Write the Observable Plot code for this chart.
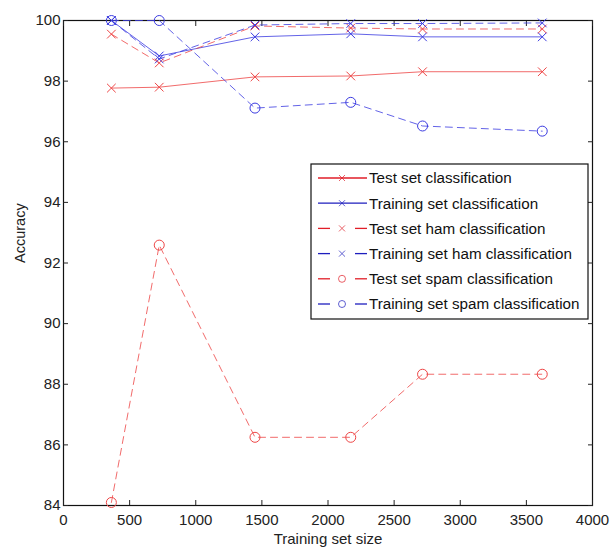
<!DOCTYPE html>
<html><head><meta charset="utf-8">
<script src="https://cdn.jsdelivr.net/npm/d3@7"></script>
<script src="https://cdn.jsdelivr.net/npm/@observablehq/plot@0.6"></script>
<style>
body{margin:0;background:#fff;}
#wrap{position:relative;width:611px;height:549px;font-family:"Liberation Sans",Arial,sans-serif;}
#wrap svg{display:block;}
#legend{position:absolute;left:0;top:0;}
</style></head><body><div id="wrap"></div>
<script>
// ---- data ----
const trainingSizes = [362, 724, 1448, 2172, 2715, 3620];
const seriesNames = [
  "Test set classification",
  "Training set classification",
  "Test set ham classification",
  "Training set ham classification",
  "Test set spam classification",
  "Training set spam classification"
];
const testSetAll      = [97.77, 97.80, 98.14, 98.17, 98.31, 98.31];
const trainingSetAll  = [100.0, 98.83, 99.46, 99.56, 99.46, 99.46];
const testSetHam      = [99.55, 98.60, 99.82, 99.75, 99.72, 99.72];
const trainingSetHam  = [100.0, 98.73, 99.85, 99.90, 99.90, 99.92];
const testSetSpam     = [84.10, 92.59, 86.25, 86.25, 88.33, 88.33];
const trainingSetSpam = [100.0, 100.0, 97.11, 97.30, 96.52, 96.35];
const xTicks = [0, 500, 1000, 1500, 2000, 2500, 3000, 3500, 4000];
const yTicks = [84, 86, 88, 90, 92, 94, 96, 98, 100];
const xLabel = "Training set size";
const yLabel = "Accuracy";

// ---- styles ----
const RED = "rgb(238,70,70)", BLUE = "rgb(60,60,225)";
const seriesStyles = [
  {color: RED,  dash: null,  symbol: "times"},
  {color: BLUE, dash: null,  symbol: "times"},
  {color: RED,  dash: "7,5", symbol: "times"},
  {color: BLUE, dash: "7,5", symbol: "times"},
  {color: RED,  dash: "7,5", symbol: "circle"},
  {color: BLUE, dash: "7,5", symbol: "circle"}
];
const seriesValues = [testSetAll, trainingSetAll, testSetHam, trainingSetHam, testSetSpam, trainingSetSpam];

const seriesMarks = [];
seriesValues.forEach((vals, i) => {
  const rows = trainingSizes.map((s, j) => ({size: s, acc: vals[j], series: seriesNames[i]}));
  const st = seriesStyles[i];
  seriesMarks.push(Plot.line(rows, {x: "size", y: "acc", stroke: st.color, strokeWidth: 1,
    strokeOpacity: 0.8, strokeDasharray: st.dash || undefined}));
  seriesMarks.push(Plot.dot(rows, {x: "size", y: "acc", symbol: () => st.symbol,
    r: st.symbol === "circle" ? 5 : 4, stroke: st.color, strokeWidth: 1, fill: "none"}));
});

const font = '"Liberation Sans", Arial, sans-serif';
const chart = Plot.plot({
  width: 611, height: 549,
  marginLeft: 63, marginRight: 19, marginTop: 20, marginBottom: 44,
  style: {fontFamily: font, fontSize: "15px", color: "#222", background: "#fff", overflow: "visible"},
  x: {domain: [0, 4000]},
  y: {domain: [84, 100]},
  symbol: {type: "identity"},
  marks: [
    Plot.frame({stroke: "#111", strokeWidth: 1.2}),
    Plot.axisX({ticks: xTicks, anchor: "bottom", tickSize: -5, tickPadding: 14, label: null, tickFormat: d => String(d)}),
    Plot.axisX({ticks: xTicks, anchor: "top", tickSize: -5, label: null, tickFormat: () => ""}),
    Plot.axisY({ticks: yTicks, anchor: "left", tickSize: -5, tickPadding: 8, label: null, tickFormat: d => String(d)}),
    Plot.axisY({ticks: yTicks, anchor: "right", tickSize: -5, label: null, tickFormat: () => ""}),
    Plot.text([xLabel], {frameAnchor: "bottom", dy: 38, fontSize: 15, fill: "#222"}),
    Plot.text([yLabel], {frameAnchor: "left", dx: -43, rotate: -90, fontSize: 14.5, fill: "#222"}),
    ...seriesMarks
  ]
});
document.getElementById("wrap").appendChild(chart);

// ---- legend overlay ----
const lg = d3.select("#wrap").append("svg").attr("id", "legend")
  .attr("width", 611).attr("height", 549).style("pointer-events", "none");
const LBOX = {x: 311, y: 164, w: 277, h: 155};
lg.append("rect").attr("x", LBOX.x).attr("y", LBOX.y).attr("width", LBOX.w).attr("height", LBOX.h)
  .attr("fill", "#fff").attr("stroke", "#111").attr("stroke-width", 1.2);
const LEG_RED = "rgb(225,30,40)", LEG_BLUE = "rgb(30,30,190)";
seriesNames.forEach((name, i) => {
  const st = seriesStyles[i];
  const col = st.color === RED ? LEG_RED : LEG_BLUE;
  const cy = LBOX.y + 14 + i * 25.2;
  const g = lg.append("g");
  const x0 = LBOX.x + 7, x1 = LBOX.x + 56, mx = LBOX.x + 31;
  const segs = st.dash ? [[x0, x0 + 12], [x1 - 12, x1]] : [[x0, x1]];
  segs.forEach(([a, b]) => g.append("line").attr("x1", a).attr("x2", b).attr("y1", cy).attr("y2", cy)
    .attr("stroke", col).attr("stroke-width", 1.3));
  if (st.symbol === "circle") {
    g.append("circle").attr("cx", mx).attr("cy", cy).attr("r", 3.5).attr("fill", "none")
      .attr("stroke", col).attr("stroke-width", 1).attr("opacity", 0.7);
  } else {
    const s = 3;
    g.append("path").attr("d", `M${mx - s},${cy - s}L${mx + s},${cy + s}M${mx - s},${cy + s}L${mx + s},${cy - s}`)
      .attr("stroke", col).attr("stroke-width", 1).attr("opacity", 0.7);
  }
  g.append("text").attr("x", LBOX.x + 58).attr("y", cy).attr("dy", "0.35em")
    .attr("font-family", font).attr("font-size", 15.2).attr("fill", "#111").text(name);
});
</script>
</body></html>
